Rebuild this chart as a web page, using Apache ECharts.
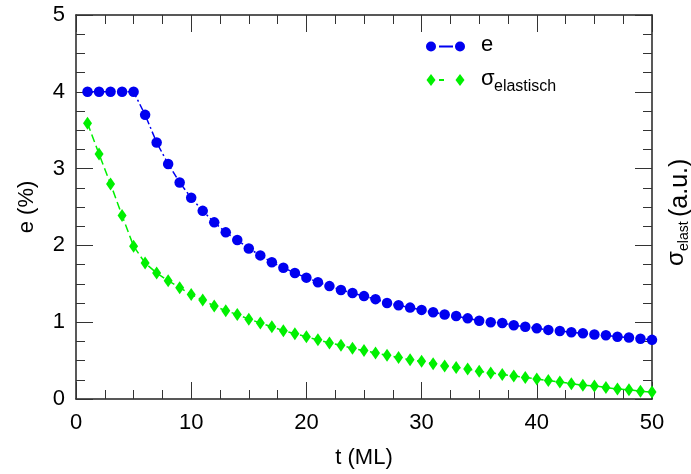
<!DOCTYPE html>
<html>
<head>
    <meta charset="UTF-8"/>
    <script type="text/javascript" src="https://cdn.jsdelivr.net/npm/echarts@6/dist/echarts.min.js"></script>
    <style>
        html, body { margin: 0; padding: 0; background: #fff; }
        #main { width: 691px; height: 474px; }
    </style>
</head>
<body>
<div id="main"></div>
<script type="text/javascript">
    // t (ML)
    var tValues = [1, 2, 3, 4, 5, 6, 7, 8, 9, 10, 11, 12, 13, 14, 15, 16, 17, 18, 19, 20,
        21, 22, 23, 24, 25, 26, 27, 28, 29, 30, 31, 32, 33, 34, 35, 36, 37, 38, 39, 40,
        41, 42, 43, 44, 45, 46, 47, 48, 49, 50];
    // e (%)
    var eValues = [4.00, 4.00, 4.00, 4.00, 4.00, 3.70, 3.34, 3.06, 2.82, 2.62,
        2.45, 2.30, 2.17, 2.07, 1.96, 1.87, 1.78, 1.71, 1.64, 1.58,
        1.52, 1.47, 1.42, 1.38, 1.34, 1.30, 1.25, 1.22, 1.19, 1.16,
        1.13, 1.10, 1.08, 1.05, 1.02, 1.00, 0.99, 0.96, 0.94, 0.92,
        0.90, 0.885, 0.87, 0.855, 0.84, 0.83, 0.81, 0.80, 0.785, 0.77];
    // sigma elastisch
    var sigmaValues = [3.59, 3.19, 2.80, 2.39, 1.99, 1.77, 1.64, 1.54, 1.45, 1.36,
        1.29, 1.21, 1.15, 1.10, 1.04, 0.99, 0.94, 0.89, 0.85, 0.81,
        0.77, 0.73, 0.70, 0.66, 0.63, 0.60, 0.57, 0.54, 0.51, 0.49,
        0.46, 0.43, 0.41, 0.39, 0.36, 0.34, 0.32, 0.30, 0.28, 0.26,
        0.24, 0.22, 0.20, 0.18, 0.17, 0.15, 0.13, 0.12, 0.10, 0.09];
    var xTicks = [0, 10, 20, 30, 40, 50];
    var yTicks = [0, 1, 2, 3, 4, 5];

    var blue = '#0000f0';
    var green = '#00f000';
    var font = 'Liberation Sans';

    function pairs(xs, ys) {
        var out = [];
        for (var i = 0; i < xs.length; i++) out.push([xs[i], ys[i]]);
        return out;
    }

    function axisBase(showLabel) {
        return {
            type: 'value',
            axisLine: {show: true, onZero: false, lineStyle: {color: '#222', width: 1.5}},
            axisTick: {show: true, inside: true, length: 17, lineStyle: {color: '#333', width: 1}},
            minorTick: {show: true, splitNumber: 4, length: 9, lineStyle: {color: '#333', width: 1}},
            splitLine: {show: false},
            axisLabel: {show: showLabel, color: '#000', fontFamily: font, fontSize: 22}
        };
    }

    var xBottom = axisBase(true);
    xBottom.position = 'bottom';
    xBottom.min = xTicks[0];
    xBottom.max = xTicks[xTicks.length - 1];
    xBottom.interval = 10;
    xBottom.axisLabel.margin = 13;
    xBottom.name = 't (ML)';
    xBottom.nameLocation = 'middle';
    xBottom.nameGap = 48;
    xBottom.nameTextStyle = {color: '#000', fontFamily: font, fontSize: 22};

    var xTop = axisBase(false);
    xTop.position = 'top';
    xTop.min = xTicks[0];
    xTop.max = xTicks[xTicks.length - 1];
    xTop.interval = 10;

    var yLeft = axisBase(true);
    yLeft.position = 'left';
    yLeft.min = yTicks[0];
    yLeft.max = yTicks[yTicks.length - 1];
    yLeft.interval = 1;
    yLeft.axisLabel.margin = 11;
    yLeft.name = 'e (%)';
    yLeft.nameLocation = 'middle';
    yLeft.nameGap = 38;
    yLeft.nameTextStyle = {color: '#000', fontFamily: font, fontSize: 22};

    var yRight = axisBase(false);
    yRight.position = 'right';
    yRight.min = yTicks[0];
    yRight.max = yTicks[yTicks.length - 1];
    yRight.interval = 1;

    var txt = {fill: '#000', fontFamily: font};

    var option = {
        animation: false,
        backgroundColor: '#fff',
        grid: {left: 76, right: 39, top: 15, bottom: 75},
        xAxis: [xBottom, xTop],
        yAxis: [yLeft, yRight],
        series: [
            {
                name: 'σelastisch',
                type: 'line',
                data: pairs(tValues, sigmaValues),
                symbol: 'diamond',
                symbolSize: [9, 13],
                clip: false,
                itemStyle: {color: green},
                lineStyle: {color: green, width: 1.5, type: [8, 4]}
            },
            {
                name: 'e',
                type: 'line',
                data: pairs(tValues, eValues),
                symbol: 'circle',
                symbolSize: 10.5,
                clip: false,
                itemStyle: {color: blue},
                lineStyle: {color: blue, width: 1.5, type: [7, 3, 2, 3]}
            }
        ],
        graphic: [
            // legend
            {type: 'circle', shape: {cx: 431, cy: 46.5, r: 5}, style: {fill: blue}},
            {type: 'line', shape: {x1: 439, y1: 46.5, x2: 453, y2: 46.5}, style: {stroke: blue, lineWidth: 2}},
            {type: 'circle', shape: {cx: 460, cy: 46.5, r: 5}, style: {fill: blue}},
            {type: 'text', x: 481, y: 45, style: Object.assign({text: 'e', fontSize: 22, verticalAlign: 'middle'}, txt)},
            {type: 'polygon', shape: {points: [[431, 74], [435.5, 80], [431, 86], [426.5, 80]]}, style: {fill: green}},
            {type: 'line', shape: {x1: 439, y1: 80, x2: 444, y2: 80}, style: {stroke: green, lineWidth: 2}},
            {type: 'polygon', shape: {points: [[460, 74], [464.5, 80], [460, 86], [455.5, 80]]}, style: {fill: green}},
            {type: 'text', x: 481, y: 79, style: Object.assign({text: 'σ', fontSize: 22, verticalAlign: 'middle'}, txt)},
            {type: 'text', x: 494, y: 86.5, style: Object.assign({text: 'elastisch', fontSize: 16, verticalAlign: 'middle'}, txt)},
            // right axis title
            {
                type: 'group', x: 680, y: 266, rotation: Math.PI / 2,
                children: [
                    {type: 'text', x: 0, y: -4, style: Object.assign({text: 'σ', fontSize: 24, verticalAlign: 'middle'}, txt)},
                    {type: 'text', x: 15, y: 4, style: Object.assign({text: 'elast', fontSize: 14, verticalAlign: 'middle'}, txt)},
                    {type: 'text', x: 49, y: 0, style: Object.assign({text: '(a.u.)', fontSize: 25, verticalAlign: 'middle'}, txt)}
                ]
            }
        ]
    };

    var myChart = echarts.init(document.getElementById('main'));
    myChart.setOption(option);
</script>
</body>
</html>
